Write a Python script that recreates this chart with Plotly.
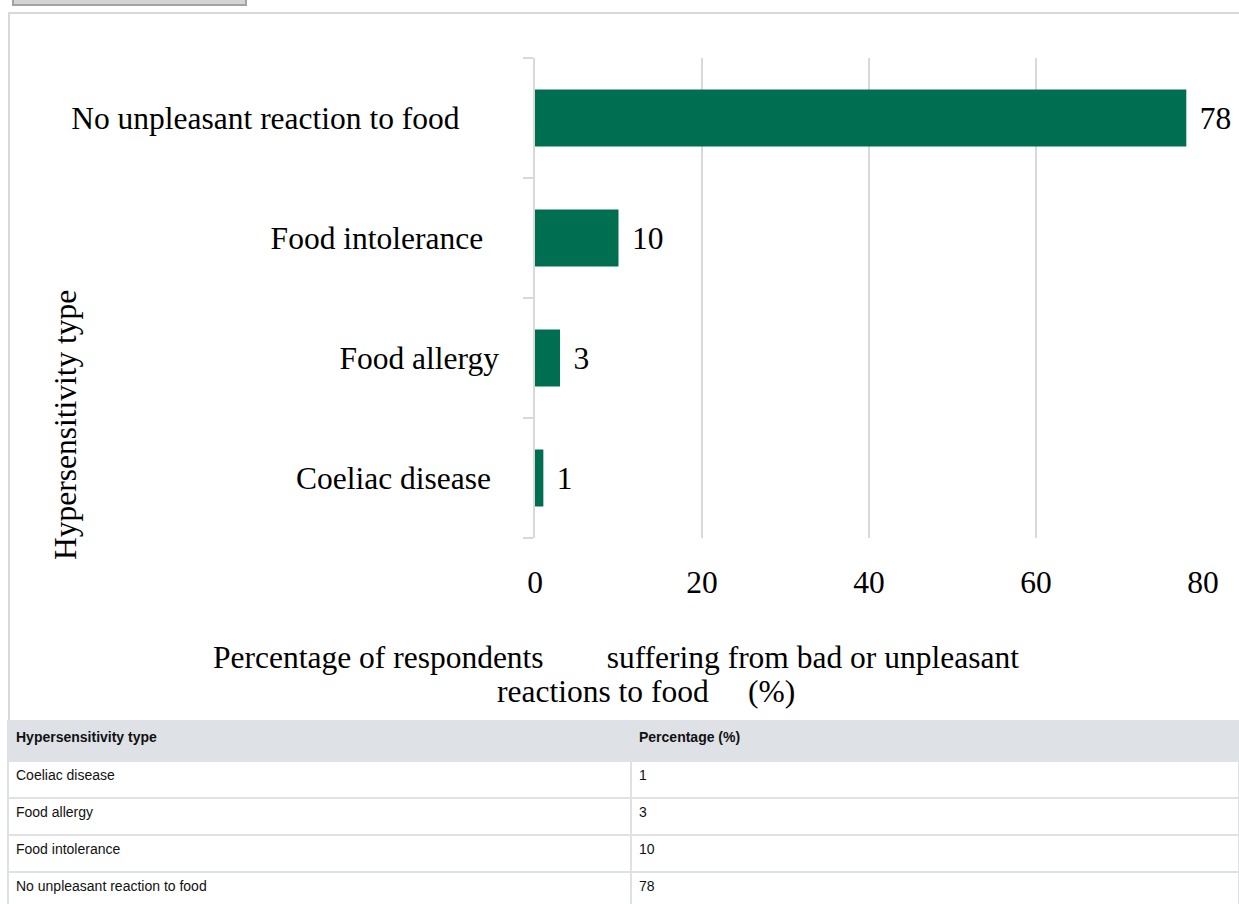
import plotly.graph_objects as go

# ---- data ----
categories = ["Coeliac disease", "Food allergy", "Food intolerance", "No unpleasant reaction to food"]
tick_labels = ["Coeliac disease\u00a0", "Food allergy", "Food intolerance\u00a0\u00a0",
               "No unpleasant reaction to food\u00a0\u00a0\u00a0\u00a0\u00a0"]
percentages = [1, 3, 10, 78]
x_ticks = [0, 20, 40, 60, 80]
table_headers = ["Hypersensitivity type", "Percentage (%)"]

NB = "\u00a0"
y_title = "Hypersensitivity type"
x_title_line1 = "Percentage of respondents" + NB * 8 + "suffering from bad or unpleasant"
x_title_line2 = "reactions to food" + NB * 5 + "(%)"

# ---- layout geometry (pixels) ----
W, H = 1239, 909
PX0, PX1 = 535, 1203   # plot area left / right
PY0, PY1 = 58, 538     # plot area top / bottom


def fx(px):
    return px / W


def fy(py):
    return (H - py) / H


SERIF = "Liberation Serif, Times New Roman, serif"
SANS = "Liberation Sans, Arial, sans-serif"
FS = 31.5
GREEN = "#006E51"
GRID = "#d9d9d9"

fig = go.Figure()

fig.add_trace(go.Bar(
    y=categories,
    x=percentages,
    orientation="h",
    marker=dict(color=GREEN, line=dict(width=0)),
    texttemplate="\u2004%{x}",
    textposition="outside",
    textfont=dict(family=SERIF, size=FS, color="black"),
    cliponaxis=False,
    constraintext="none",
    hoverinfo="skip",
))

fig.add_trace(go.Table(
    domain=dict(x=[fx(8), 1], y=[0, fy(721)]),
    columnwidth=[623, 608],
    header=dict(
        values=["<b>%s</b>" % h for h in table_headers],
        fill_color="#dee2e6",
        line=dict(color="#dee2e6", width=2),
        align="left",
        height=40,
        font=dict(family=SANS, size=14, color="#111111"),
    ),
    cells=dict(
        values=[categories, [str(v) for v in percentages]],
        fill_color="white",
        line=dict(color="#dee2e6", width=2),
        align="left",
        height=37,
        font=dict(family=SANS, size=14, color="#111111"),
    ),
))

fig.update_layout(
    width=W, height=H,
    autosize=False,
    margin=dict(l=0, r=0, t=0, b=0, pad=0, autoexpand=False),
    paper_bgcolor="white",
    plot_bgcolor="white",
    showlegend=False,
    bargap=0.525,
    font=dict(family=SERIF, color="black"),
    xaxis=dict(
        domain=[fx(PX0), fx(PX1)],
        range=[0, 80],
        tickvals=x_ticks,
        showgrid=True, gridcolor=GRID, gridwidth=1.5,
        zeroline=False, showline=False, ticks="",
        tickfont=dict(family=SERIF, size=FS, color="black"),
        ticklabelstandoff=22,
        automargin=False,
        fixedrange=True,
    ),
    yaxis=dict(
        domain=[fy(PY1), fy(PY0)],
        type="category",
        categoryorder="array", categoryarray=categories,
        tickvals=categories, ticktext=tick_labels,
        range=[-0.5, 3.5],
        tickson="boundaries",
        ticks="outside", ticklen=10, tickwidth=1.5, tickcolor=GRID,
        showline=True, linecolor=GRID, linewidth=1.5,
        showgrid=False, zeroline=False,
        tickfont=dict(family=SERIF, size=FS, color="black"),
        ticklabelstandoff=28,
        automargin=False,
        fixedrange=True,
    ),
    shapes=[
        dict(type="rect", xref="paper", yref="paper", layer="below",
             x0=fx(9), x1=fx(1260), y0=fy(721), y1=fy(13),
             line=dict(color="#d9d9d9", width=2), fillcolor="rgba(0,0,0,0)"),
        dict(type="rect", xref="paper", yref="paper", layer="above",
             x0=fx(13), x1=fx(246), y0=fy(5), y1=fy(-5),
             line=dict(color="#a3a3a3", width=2), fillcolor="#d4d4d4"),
    ],
    annotations=[
        dict(text=y_title, xref="paper", yref="paper", x=fx(65), y=fy(425),
             textangle=-90, showarrow=False, xanchor="center", yanchor="middle",
             font=dict(family=SERIF, size=FS, color="black")),
        dict(text=x_title_line1, xref="paper", yref="paper", x=fx(615.5), y=fy(657),
             showarrow=False, xanchor="center", yanchor="middle",
             font=dict(family=SERIF, size=FS, color="black")),
        dict(text=x_title_line2, xref="paper", yref="paper", x=fx(645.5), y=fy(691),
             showarrow=False, xanchor="center", yanchor="middle",
             font=dict(family=SERIF, size=FS, color="black")),
    ],
)

fig.write_html(
    "out.html",
    config=dict(displayModeBar=False, responsive=False),
    post_script="document.body.style.margin='0';",
)
